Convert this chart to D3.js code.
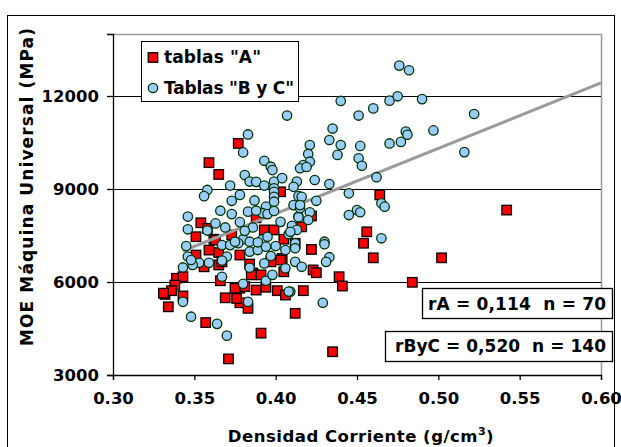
<!DOCTYPE html>
<html><head><meta charset="utf-8">
<script src="https://cdn.jsdelivr.net/npm/d3@7"></script>
<style>
html,body{margin:0;padding:0;background:#fff;}
svg text{font-family:"DejaVu Sans",Verdana,sans-serif;font-weight:bold;}
</style></head>
<body><svg id="c" width="621" height="447"></svg>
<script>
const xTicks = [0.30,0.35,0.40,0.45,0.50,0.55,0.60];
const yTicks = [3000,6000,9000,12000];
const gridValues = [6000,9000,12000];
const seriesNames = ['tablas "A"', 'Tablas "B y C"'];
const statLabels = ["rA = 0,114  n = 70", "rByC = 0,520  n = 140"];
const xTitle = "Densidad Corriente (g/cm";
const yTitle = "MOE Máquina Universal (MPa)";

const redX = [0.377,0.359,0.365,0.403,0.464,0.542,0.422,0.388,0.354,0.416,0.351,0.362,0.373,0.393,0.399,0.405,0.456,0.454,0.359,0.365,0.412,0.422,0.351,0.378,0.404,0.460,0.502,0.356,0.365,0.384,0.386,0.423,0.425,0.439,0.441,0.484,0.417,0.412,0.435,0.339,0.343,0.338,0.332,0.336,0.334,0.343,0.357,0.371,0.391,0.366,0.369,0.378,0.378,0.383,0.385,0.388,0.394,0.401,0.405,0.406,0.367,0.403,0.397,0.376,0.391,0.381,0.375,0.331,0.363,0.358];
const redY = [10470,9850,9470,8910,8810,8320,8130,8070,7910,7780,7460,7380,7520,7680,7680,7380,7620,7250,7030,6950,7250,7050,6870,6870,6760,6780,6780,6490,6550,6580,6290,6390,6300,6170,5870,5990,5720,4990,3750,6120,6170,5900,5600,5720,5200,5550,4690,3520,4350,6040,5490,5800,5330,5150,6230,5740,5830,5720,6330,5580,6650,6710,6650,5470,6230,5850,5800,5640,7350,7730];

const blueX = [0.407,0.383,0.380,0.476,0.482,0.440,0.470,0.475,0.490,0.460,
0.451,0.522,0.435,0.433,0.440,0.452,0.470,0.477,0.480,0.481,
0.497,0.516,0.421,0.420,0.438,0.451,0.453,0.421,0.417,0.415,
0.424,0.433,0.413,0.462,0.411,0.445,0.414,0.425,0.465,0.467,
0.450,0.452,0.445,0.421,0.414,0.410,0.465,0.430,0.430,0.412,
0.412,0.433,0.431,0.412,0.416,0.429,0.409,0.393,0.397,0.398,
0.381,0.384,0.388,0.393,0.399,0.399,0.404,0.372,0.358,0.356,
0.373,0.387,0.399,0.399,0.399,0.394,0.411,0.415,0.366,0.373,
0.383,0.392,0.395,0.399,0.346,0.414,0.363,0.369,0.378,0.346,
0.358,0.386,0.380,0.392,0.408,0.413,0.345,0.367,0.372,0.377,
0.384,0.389,0.394,0.400,0.346,0.343,0.370,0.367,0.397,0.353,
0.349,0.393,0.406,0.359,0.343,0.348,0.364,0.370,0.367,0.383,
0.380,0.394,0.398,0.408,0.419,0.381,0.375,0.395,0.384,0.348,
0.384,0.389,0.388,0.416,0.415,0.420,0.409,0.403,0.406,0.378];
const blueY = [11370,10760,10180,12980,12830,11840,11850,11990,11900,11600,
11370,11420,10950,10580,10420,10390,10470,10520,10850,10750,
10890,10190,10420,10130,10100,9990,9750,9880,9770,9670,
9290,9160,9240,9380,9070,8860,8770,8620,8540,8430,
8320,8250,8160,8250,8110,7810,7410,7300,7220,7250,
7090,6800,6650,6650,6490,5330,5690,9910,9720,9610,
9450,9240,9230,9110,9240,9020,9350,9110,8970,8770,
8620,8630,8910,8750,8590,8430,8480,8380,8300,8190,
8270,8220,8190,8290,8110,8090,7890,7760,7930,7700,
7660,7760,7380,7380,7540,7680,7160,7190,7190,7250,
6980,7030,7140,7160,6820,6470,6820,6690,6840,6620,
6550,6600,6440,6620,5360,4880,4650,4270,6170,5360,
5940,6040,6230,5690,9710,7650,7300,7460,6460,6710,
7300,7280,8300,8750,8480,8000,7620,7940,7030,8810];

const trendX = [0.343, 0.60];
const trendY = [7000, 12420];

const svg = d3.select("#c");
const L=113, R=601, T=34, B=375;
const x = d3.scaleLinear().domain([0.30,0.60]).range([L,R]);
const y = d3.scaleLinear().domain([3000,14000]).range([B,T]);

// outer border
svg.append("rect").attr("x",7.5).attr("y",15.5).attr("width",607).attr("height",440)
  .attr("fill","none").attr("stroke","#000").attr("stroke-width",1);

// plot frame top/right (gray)
svg.append("path").attr("d",`M${L},${T+0.5}H${R+0.5}V${B}`).attr("fill","none")
  .attr("stroke","#999").attr("stroke-width",1.5);

// gridlines
svg.append("g").selectAll("line").data(gridValues).join("line")
  .attr("x1",L).attr("x2",R).attr("y1",d=>Math.round(y(d))+0.5).attr("y2",d=>Math.round(y(d))+0.5)
  .attr("stroke","#000").attr("stroke-width",1);

// axes
const xAxis = d3.axisBottom(x).tickValues(xTicks).tickFormat(d3.format(".2f")).tickSize(5).tickPadding(12);
const gx = svg.append("g").attr("transform",`translate(0,${B})`).call(xAxis);
gx.select(".domain").attr("stroke","#000").attr("stroke-width",1.3);
gx.selectAll(".tick line").attr("stroke","#000").attr("stroke-width",1.3);
gx.selectAll("text").attr("font-size",16.5).attr("fill","#000").style("font-family","DejaVu Sans").style("font-weight","bold");

const yAxis = d3.axisLeft(y).tickValues(yTicks).tickFormat(d3.format("d")).tickSize(6).tickPadding(8);
const gy = svg.append("g").attr("transform",`translate(${L},0)`).call(yAxis);
gy.select(".domain").attr("stroke","#000").attr("stroke-width",1.3);
gy.selectAll(".tick line").attr("stroke","#000").attr("stroke-width",1.3);
gy.selectAll("text").attr("font-size",16.5).attr("fill","#000").style("font-family","DejaVu Sans").style("font-weight","bold");

// series A (red squares)
const red = redX.map((v,i)=>({x:v,y:redY[i]}));
const blue = blueX.map((v,i)=>({x:v,y:blueY[i]}));
const S = 9.5;
svg.append("g").selectAll("rect").data(red).join("rect")
  .attr("x",d=>x(d.x)-S/2).attr("y",d=>y(d.y)-S/2).attr("width",S).attr("height",S)
  .attr("fill","#ff0000").attr("stroke","#000").attr("stroke-width",1.3);

// trend line
svg.append("line").attr("x1",x(trendX[0])).attr("y1",y(trendY[0]))
  .attr("x2",x(trendX[1])).attr("y2",y(trendY[1]))
  .attr("stroke","#9a9a9a").attr("stroke-width",3);

// series B y C (circles)
svg.append("g").selectAll("circle").data(blue).join("circle")
  .attr("cx",d=>x(d.x)).attr("cy",d=>y(d.y)).attr("r",4.7)
  .attr("fill","#99ccff").attr("stroke","#003300").attr("stroke-width",1.3);

// legend
const lg = svg.append("g");
lg.append("rect").attr("x",141.5).attr("y",41.5).attr("width",157).attr("height",60)
  .attr("fill","#fff").attr("stroke","#000").attr("stroke-width",1);
lg.append("rect").attr("x",153-S/2).attr("y",57.5-S/2).attr("width",S).attr("height",S)
  .attr("fill","#ff0000").attr("stroke","#000").attr("stroke-width",1.3);
lg.append("circle").attr("cx",153).attr("cy",88).attr("r",4.7)
  .attr("fill","#99ccff").attr("stroke","#003300").attr("stroke-width",1.3);
const legLen = [97,130];
lg.selectAll("text").data(seriesNames).join("text")
  .attr("x",164).attr("y",(d,i)=>i===0?63:94).attr("font-size",17)
  .attr("textLength",(d,i)=>legLen[i]).attr("lengthAdjust","spacing").text(d=>d);

// stat boxes
const boxes = [{x:422.5,y:288.5,w:190,h:30,ty:310,tl:178},{x:385.5,y:331.5,w:227,h:30,ty:352,tl:211}];
const sg = svg.append("g").selectAll("g").data(boxes).join("g");
sg.append("rect").attr("x",d=>d.x).attr("y",d=>d.y).attr("width",d=>d.w).attr("height",d=>d.h)
  .attr("fill","#fff").attr("stroke","#000").attr("stroke-width",1.3);
sg.append("text").attr("x",606).attr("y",d=>d.ty).attr("text-anchor","end").attr("font-size",17)
  .attr("textLength",d=>d.tl).attr("lengthAdjust","spacing")
  .style("white-space","pre").text((d,i)=>statLabels[i]);

// axis titles
const xt = svg.append("text").attr("x",361).attr("y",442).attr("text-anchor","middle").attr("font-size",16.5)
  .attr("letter-spacing",0.5);
xt.append("tspan").text(xTitle);
xt.append("tspan").attr("dy",-7).attr("font-size",11).text("3");
xt.append("tspan").attr("dy",7).text(")");

svg.append("text").attr("transform","translate(33,187) rotate(-90)").attr("text-anchor","middle")
  .attr("font-size",17).attr("textLength",318).attr("lengthAdjust","spacing").text(yTitle);
</script></body></html>
